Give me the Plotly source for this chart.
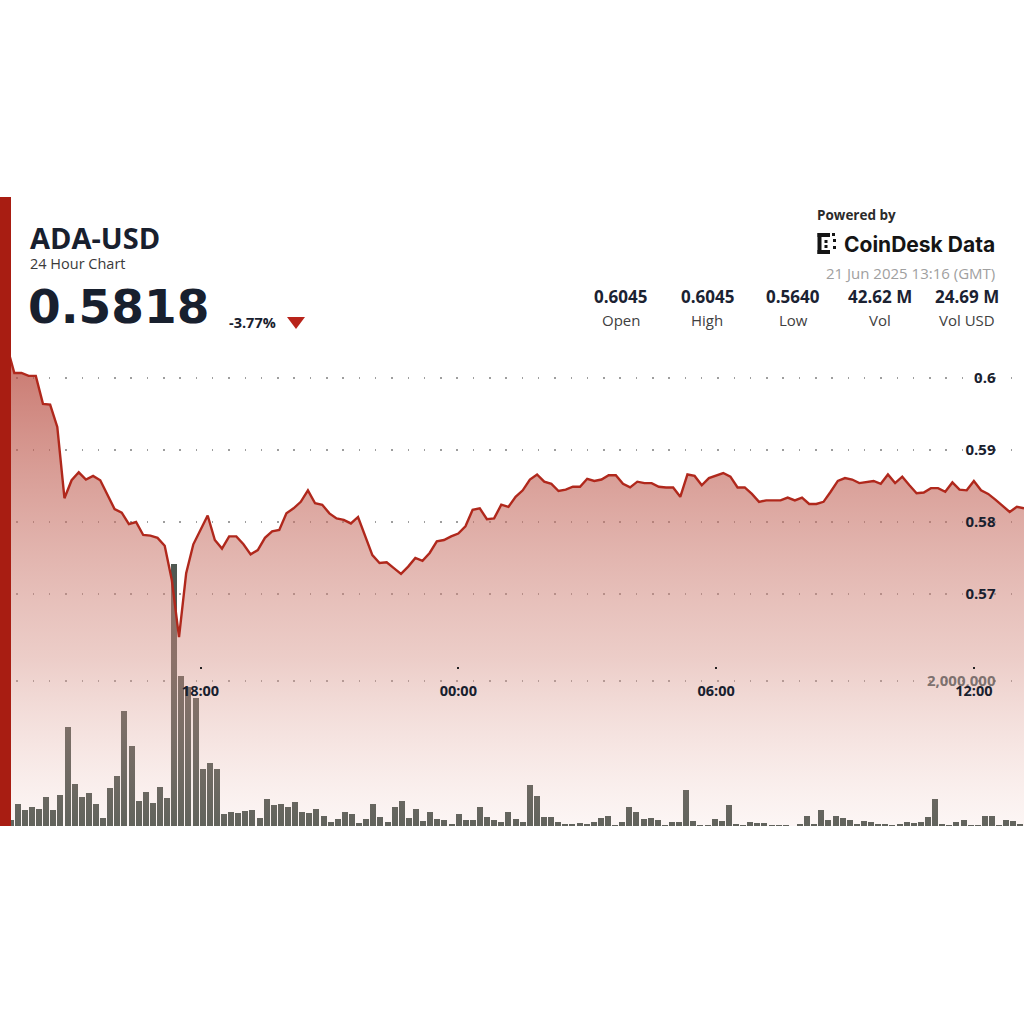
import plotly.graph_objects as go
import pandas as pd

# ---------------- data ----------------
first_point = "2025-06-20 13:20"
# 10-minute closes, 13:20 (20 Jun) .. 13:10 (21 Jun)
prices = [
    0.6045, 0.6043, 0.6007, 0.6007,                      # 13:20-13:50
    0.6003, 0.6003, 0.5964, 0.5963, 0.5932, 0.5833,      # 14h
    0.5858, 0.5869, 0.5859, 0.5864, 0.5858, 0.5839,      # 15h
    0.5818, 0.5813, 0.5797, 0.5800, 0.5782, 0.5781,      # 16h
    0.5778, 0.5767, 0.5719, 0.5640, 0.5729, 0.5769,      # 17h
    0.5788, 0.5809, 0.5775, 0.5763, 0.5780, 0.5780,      # 18h
    0.5769, 0.5755, 0.5761, 0.5778, 0.5787, 0.5789,      # 19h
    0.5812, 0.5819, 0.5828, 0.5844, 0.5826, 0.5824,      # 20h
    0.5812, 0.5805, 0.5803, 0.5798, 0.5807, 0.5780,      # 21h
    0.5754, 0.5743, 0.5744, 0.5736, 0.5728, 0.5738,      # 22h
    0.5750, 0.5746, 0.5757, 0.5773, 0.5775, 0.5780,      # 23h
    0.5784, 0.5794, 0.5817, 0.5819, 0.5804, 0.5805,      # 00h
    0.5824, 0.5821, 0.5835, 0.5844, 0.5859, 0.5866,      # 01h
    0.5856, 0.5853, 0.5843, 0.5845, 0.5849, 0.5849,      # 02h
    0.5860, 0.5857, 0.5859, 0.5865, 0.5865, 0.5853,      # 03h
    0.5848, 0.5856, 0.5854, 0.5854, 0.5849, 0.5848,      # 04h
    0.5848, 0.5835, 0.5866, 0.5864, 0.5851, 0.5861,      # 05h
    0.5865, 0.5868, 0.5863, 0.5848, 0.5848, 0.5839,      # 06h
    0.5828, 0.5830, 0.5830, 0.5830, 0.5834, 0.5830,      # 07h
    0.5834, 0.5825, 0.5825, 0.5828, 0.5842, 0.5857,      # 08h
    0.5861, 0.5859, 0.5854, 0.5856, 0.5857, 0.5853,      # 09h
    0.5866, 0.5854, 0.5863, 0.5851, 0.5840, 0.5841,      # 10h
    0.5847, 0.5847, 0.5842, 0.5855, 0.5845, 0.5844,      # 11h
    0.5857, 0.5844, 0.5839, 0.5831, 0.5822, 0.5814,      # 12h
    0.5821, 0.5819,                                      # 13:00-13:10
]
# 10-minute volumes in millions of ADA
volumes_m = [
    0.20, 0.08, 0.30, 0.22,
    0.26, 0.24, 0.40, 0.22, 0.43, 1.36,
    0.58, 0.40, 0.46, 0.31, 0.11, 0.52,
    0.69, 1.59, 1.11, 0.35, 0.47, 0.32,
    0.54, 0.39, 3.61, 2.07, 1.92, 1.77,
    0.79, 0.87, 0.78, 0.16, 0.19, 0.18,
    0.21, 0.22, 0.11, 0.37, 0.29, 0.30,
    0.26, 0.33, 0.20, 0.18, 0.24, 0.14,
    0.06, 0.09, 0.20, 0.16, 0.04, 0.09,
    0.31, 0.13, 0.06, 0.26, 0.35, 0.11,
    0.24, 0.07, 0.19, 0.10, 0.08, 0.02,
    0.16, 0.08, 0.08, 0.26, 0.12, 0.08,
    0.06, 0.19, 0.09, 0.06, 0.57, 0.41,
    0.12, 0.12, 0.06, 0.02, 0.02, 0.04,
    0.02, 0.05, 0.11, 0.14, 0.01, 0.05,
    0.26, 0.20, 0.10, 0.11, 0.08, 0.01,
    0.06, 0.05, 0.49, 0.07, 0.005, 0.01,
    0.09, 0.07, 0.29, 0.03, 0.01, 0.05,
    0.04, 0.04, 0.005, 0.005, 0.005, 0.0,
    0.03, 0.14, 0.02, 0.22, 0.08, 0.14,
    0.11, 0.08, 0.03, 0.07, 0.05, 0.02,
    0.02, 0.005, 0.02, 0.06, 0.04, 0.05,
    0.13, 0.37, 0.03, 0.005, 0.05, 0.08,
    0.005, 0.005, 0.14, 0.14, 0.005, 0.08,
    0.07, 0.03,
]
x_ticks = ["2025-06-20 18:00", "2025-06-21 00:00", "2025-06-21 06:00", "2025-06-21 12:00"]
x_tick_labels = ["18:00", "00:00", "06:00", "12:00"]
price_ticks = [0.57, 0.58, 0.59, 0.60]
price_tick_labels = ["0.57", "0.58", "0.59", "0.6"]
volume_ticks = [2_000_000]
volume_tick_labels = ["2,000,000"]
stat_values = ["0.6045", "0.6045", "0.5640", "42.62 M", "24.69 M"]
stat_labels = ["Open", "High", "Low", "Vol", "Vol USD"]
symbol = "ADA-USD"
subtitle = "24 Hour Chart"
last_price = "0.5818"
change_pct = "-3.77%"
timestamp = "21 Jun 2025 13:16 (GMT)"

# ---------------- derived ----------------
times = pd.date_range(first_point, periods=len(prices), freq="10min")
volumes = [v * 1_000_000 for v in volumes_m]

# ---------------- geometry helpers ----------------
W = H = 1024
PT, PB = 340, 826          # plot area top / bottom in px


def X(px):
    return px / W


def Y(py):
    return (PB - py) / (PB - PT)


FONT = "Open Sans"
DARK = "#18202e"
RED = "#a81d12"

fig = go.Figure()

# volume bars (band over the full 24h window)
fig.add_trace(go.Bar(
    x=times, y=volumes, xaxis="x", yaxis="y",
    xperiod=600000, xperiodalignment="middle", width=510000,
    marker=dict(color="#4f5852", line=dict(width=0)),
    hoverinfo="skip", showlegend=False,
))

# price area + line
fig.add_trace(go.Scatter(
    x=times, y=prices, xaxis="x2", yaxis="y2", mode="lines",
    line=dict(color="#b0281c", width=2.4),
    fill="tozeroy",
    fillgradient=dict(
        type="vertical",
        colorscale=[[0.0, "rgba(232,180,170,0.12)"],
                    [0.35, "rgba(213,144,133,0.45)"],
                    [1.0, "rgba(180,68,56,0.74)"]],
        start=0.5378, stop=0.6045,
    ),
    hoverinfo="skip", showlegend=False,
))

grid = dict(showgrid=True, gridcolor="rgba(125,125,125,0.75)", gridwidth=1.5,
            griddash="1.5px,14.8px")
LABEL_X = X(995.5)   # right edge of the value labels

fig.update_layout(
    width=W, height=H,
    margin=dict(l=0, r=0, t=PT, b=H - PB, pad=0),
    paper_bgcolor="white", plot_bgcolor="rgba(0,0,0,0)",
    showlegend=False, bargap=0,
    xaxis=dict(type="date", visible=False,
               range=[times[0], times[0] + pd.Timedelta(hours=24)]),
    yaxis=dict(range=[0, (PB - PT) / 72.5 * 1e6], side="left",
               anchor="free", position=LABEL_X,
               tickmode="array", tickvals=volume_ticks, ticktext=volume_tick_labels,
               ticks="", zeroline=False, showline=False,
               tickfont=dict(family=FONT, size=15, color="rgba(110,100,98,0.9)", weight=700),
               **grid),
    xaxis2=dict(type="date", overlaying="x", anchor="free", position=Y(666),
                range=[times[0], times[-1]], tickmode="array",
                tickvals=x_ticks, ticktext=x_tick_labels,
                ticks="outside", ticklen=2, tickwidth=2, tickcolor="#222",
                showgrid=False, zeroline=False, showline=False,
                ticklabelstandoff=10,
                tickfont=dict(family=FONT, size=14.5, color=DARK, weight=700)),
    yaxis2=dict(overlaying="y", anchor="free", position=LABEL_X, side="left",
                range=[0.6 - (PB - 378) / 7200, 0.6 + (378 - PT) / 7200],
                tickmode="array", tickvals=price_ticks, ticktext=price_tick_labels,
                ticks="", zeroline=False, showline=False,
                tickfont=dict(family=FONT, size=15, color=DARK, weight=700), **grid),
)

anns = []


def ann(text, px, py, size, color, weight=400, xanchor="left", family=FONT):
    anns.append(dict(text=text, x=X(px), y=Y(py), xref="paper", yref="paper",
                     xanchor=xanchor, yanchor="middle", showarrow=False,
                     font=dict(family=family, size=size, color=color, weight=weight)))


ann(symbol, 28, 237, 29, DARK, 700)
ann(subtitle, 28, 263, 14.5, "#3a3a3a")
ann(last_price, 26, 306, 47, DARK, 700, family="DejaVu Sans")
ann(change_pct, 227, 322, 14.5, DARK, 700)
ann("Powered by", 815, 215, 13.5, "#2b2b2b", 700)
ann("CoinDesk Data", 842, 245, 21, "#151515", 700, family="Inter")
ann(timestamp, 997, 273, 15, "#a0a0a0", 400, xanchor="right")
centers = [620.5, 707, 793, 880, 966.5]
for c, v, lab in zip(centers, stat_values, stat_labels):
    ann(v, c, 297, 17, "#1b2232", 700, xanchor="center")
    ann(lab, c, 320, 15, "#404040", 400, xanchor="center")

shapes = [
    dict(type="rect", xref="paper", yref="paper", x0=X(0), x1=X(11), y0=Y(826), y1=Y(197),
         fillcolor=RED, line=dict(width=0), layer="above"),
    dict(type="path", xref="paper", yref="paper",
         path=f"M {X(287)} {Y(317)} L {X(305)} {Y(317)} L {X(296)} {Y(329)} Z",
         fillcolor="#b8231a", line=dict(width=0)),
]
# CoinDesk logo mark (simple block glyph)
logo_rects = [(817.5, 233, 821.5, 254), (817.5, 233, 830, 237), (817.5, 250, 830, 254),
              (824.5, 240, 827.5, 243), (824.5, 245, 827.5, 248),
              (833, 239, 836, 242), (833, 246, 836, 249), (832, 233, 835, 236)]
for (a, b, c, d) in logo_rects:
    shapes.append(dict(type="rect", xref="paper", yref="paper", x0=X(a), x1=X(c),
                       y0=Y(d), y1=Y(b), fillcolor="#151515", line=dict(width=0)))

fig.update_layout(annotations=anns, shapes=shapes)
fig.write_html("out.html")
